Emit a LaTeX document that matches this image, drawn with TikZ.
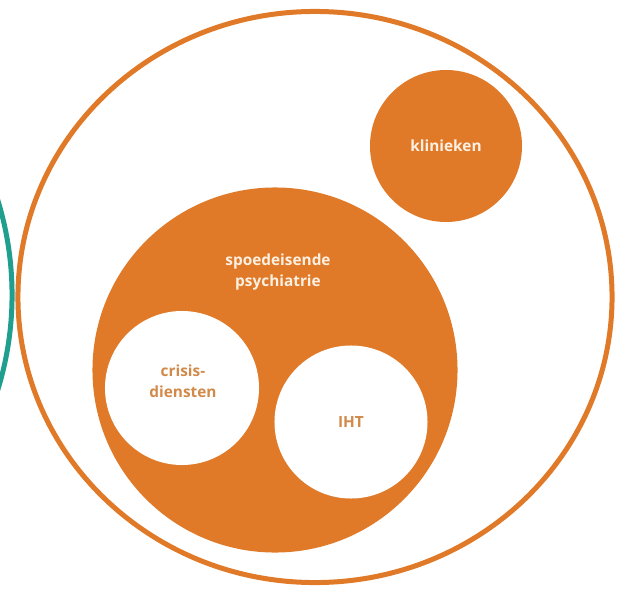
\documentclass[tikz,border=0pt]{standalone}
\usepackage{fontspec}
\setmainfont{Open Sans}
\usetikzlibrary{shapes.geometric}
\definecolor{oranje}{RGB}{224,122,40}
\definecolor{teal}{RGB}{32,158,142}
\definecolor{creme}{RGB}{252,240,226}
\definecolor{bruinoranje}{RGB}{210,138,74}

\begin{document}
\begin{tikzpicture}[
    x=0.04cm, y=-0.04cm,
    every node/.style={font=\fontsize{17.5}{24}\selectfont\bfseries, align=center, inner sep=0pt},
    ring/.style={circle, draw=#1, line width=0.2cm},
    vol/.style={circle, fill=oranje, text=creme},
    wit/.style={circle, fill=white, text=bruinoranje}
]

    % Frame
    \clip (0,0) rectangle (625,590);
    \fill[white] (0,0) rectangle (625,590);

    % Rings
    \node[ring=teal, minimum size=25.6cm] (netwerk) at (-308,295) {};
    \node[ellipse, draw=oranje, line width=0.2cm, minimum width=23.76cm, minimum height=22.84cm] (acuut) at (315,297) {};

    % Circles
    \node[vol, minimum size=6.08cm] (klinieken) at (446,146) {klinieken};
    \node[vol, minimum size=14.6cm] (spoed) at (275,370) {};
    \node[text=creme] (spoedtekst) at (278,272) {spoedeisende\\psychiatrie};
    \node[wit, minimum size=6.16cm] (crisis) at (182,388) {};
    \node[text=bruinoranje] (crisistekst) at (183,381) {crisis-\\diensten};
    \node[wit, minimum size=6.12cm] (iht) at (351,422) {IHT};

\end{tikzpicture}
\end{document}
